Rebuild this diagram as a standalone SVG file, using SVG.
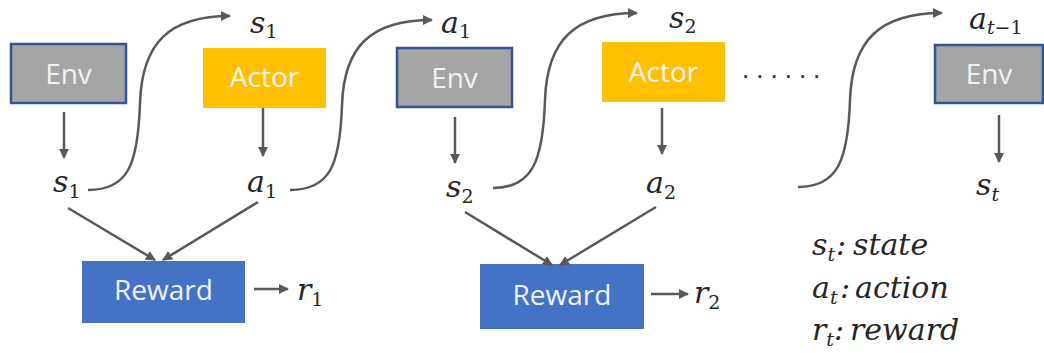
<svg xmlns="http://www.w3.org/2000/svg" width="1044" height="353" viewBox="0 0 1044 353">
<defs>
<marker id="ah" viewBox="0 0 10 10" refX="9" refY="5" markerWidth="4" markerHeight="4" orient="auto" markerUnits="strokeWidth"><path d="M0,0 L10,5 L0,10 z" fill="#595959"/></marker>
<style>
.env{fill:#A5A5A5;stroke:#2F5597;stroke-width:2.5}
.actor{fill:#FFC000}
.reward{fill:#4472C4}
.bt{font-family:'Open Sans','Noto Sans',sans-serif;font-size:28px;fill:#F2F2F2;text-anchor:middle}
.m{font-family:'DejaVu Serif',serif;font-style:italic;font-size:30px;fill:#262626}
.sub{font-size:19px;font-style:normal}
.subi{font-size:19px}
.c{fill:none;stroke:#595959;stroke-width:2.5;marker-end:url(#ah)}
</style>
</defs>
<rect width="1044" height="353" fill="#FFFFFF"/>
<g id="env1"><rect class="env" x="11" y="44" width="115" height="59"/><text class="bt" x="68.5" y="84">Env</text></g>
<g id="actor1"><rect class="actor" x="203" y="48" width="123" height="60"/><text class="bt" x="264.5" y="87">Actor</text></g>
<g id="env2"><rect class="env" x="397" y="48" width="115" height="59"/><text class="bt" x="454.5" y="88">Env</text></g>
<g id="actor2"><rect class="actor" x="602" y="42" width="123" height="60"/><text class="bt" x="663.5" y="82">Actor</text></g>
<g id="env3"><rect class="env" x="935" y="45" width="108" height="58"/><text class="bt" x="989" y="84">Env</text></g>
<g id="reward1"><rect class="reward" x="82" y="261" width="163" height="62"/><text class="bt" x="163.5" y="300">Reward</text></g>
<g id="reward2"><rect class="reward" x="480" y="264" width="164" height="65"/><text class="bt" x="562" y="305">Reward</text></g>
<g id="labels">
<text class="m" x="53" y="192">s<tspan class="sub" dy="6">1</tspan></text>
<text class="m" x="247" y="192">a<tspan class="sub" dy="6">1</tspan></text>
<text class="m" x="446" y="197">s<tspan class="sub" dy="6">2</tspan></text>
<text class="m" x="646" y="193">a<tspan class="sub" dy="6">2</tspan></text>
<text class="m" x="976" y="195">s<tspan class="subi" dy="6">t</tspan></text>
<text class="m" x="250" y="33">s<tspan class="sub" dy="5">1</tspan></text>
<text class="m" x="441" y="33">a<tspan class="sub" dy="5">1</tspan></text>
<text class="m" x="669" y="28">s<tspan class="sub" dy="5">2</tspan></text>
<text class="m" x="969" y="29">a<tspan class="subi" dy="5">t</tspan><tspan class="sub">−1</tspan></text>
<text class="m" x="297" y="300">r<tspan class="sub" dy="6">1</tspan></text>
<text class="m" x="694" y="303">r<tspan class="sub" dy="6">2</tspan></text>
<text x="742" y="78" style="font-family:'Liberation Sans',sans-serif;font-size:26px;fill:#262626;letter-spacing:7px">......</text>
<text class="m" x="812" y="255">s<tspan class="subi" dy="6">t</tspan><tspan x="836" dy="-6">:</tspan><tspan x="853">state</tspan></text>
<text class="m" x="812" y="298">a<tspan class="subi" dy="6">t</tspan><tspan x="840" dy="-6">:</tspan><tspan x="855">action</tspan></text>
<text class="m" x="812" y="340">r<tspan class="subi" dy="6">t</tspan><tspan x="834" dy="-6">:</tspan><tspan x="850">reward</tspan></text>
</g>
<g id="connectors">
<line class="c" x1="64" y1="112" x2="64" y2="158"/>
<line class="c" x1="263" y1="108" x2="263" y2="156"/>
<line class="c" x1="455" y1="117" x2="455" y2="163"/>
<line class="c" x1="662" y1="108" x2="662" y2="154"/>
<line class="c" x1="999" y1="115" x2="999" y2="162"/>
<path class="c" d="M88 190 C128 190,138 165,140 103 C142 42,170 16,230 16"/>
<path class="c" d="M290 190 C330 190,340 165,342 105 C344 45,372 20,432 20"/>
<path class="c" d="M493 188 C533 188,543 160,545 100 C547 40,575 13,637 13"/>
<path class="c" d="M798 187 C838 187,848 160,850 100 C852 40,880 13,942 13"/>
<line class="c" x1="68" y1="208" x2="155" y2="260"/>
<line class="c" x1="258" y1="202" x2="163" y2="260"/>
<line class="c" x1="465" y1="212" x2="552" y2="265"/>
<line class="c" x1="656" y1="207" x2="560" y2="265"/>
<line class="c" x1="254" y1="289" x2="288" y2="289"/>
<line class="c" x1="651" y1="294" x2="688" y2="294"/>
</g>
</svg>
